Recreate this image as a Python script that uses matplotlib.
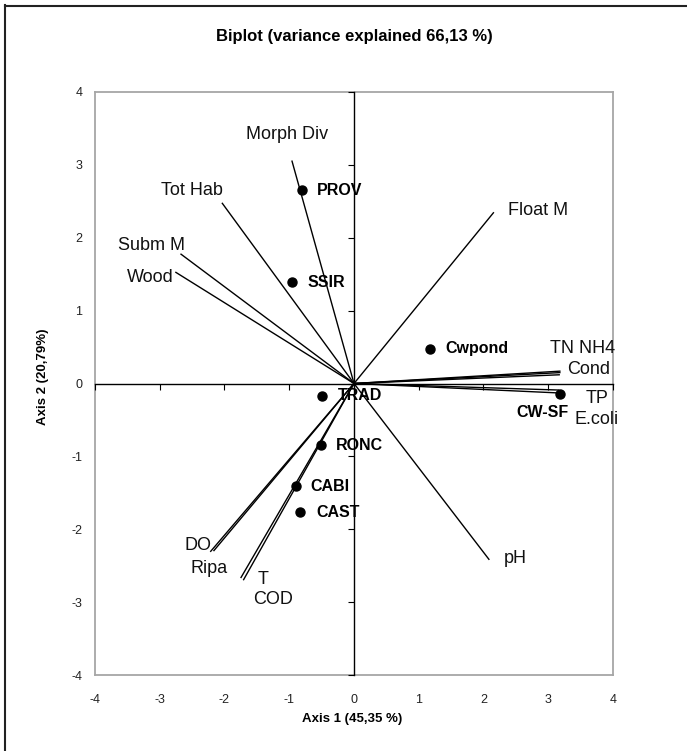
import matplotlib
matplotlib.use("Agg")
import matplotlib.pyplot as plt
from matplotlib.lines import Line2D

# ---- data ----
site_names = ["PROV", "SSIR", "Cwpond", "TRAD", "RONC", "CABI", "CAST", "CW-SF"]
site_x = [-0.80, -0.95, 1.17, -0.49, -0.51, -0.90, -0.83, 3.18]
site_y = [2.65, 1.39, 0.48, -0.17, -0.85, -1.41, -1.77, -0.14]

var_names = ["Morph Div", "Tot Hab", "Subm M", "Wood", "Float M", "TN", "NH4", "Cond",
             "TP", "E.coli", "pH", "DO", "Ripa", "T", "COD"]
var_x = [-0.96, -2.04, -2.68, -2.76, 2.16, 3.19, 3.19, 3.18,
         3.17, 3.17, 2.09, -2.22, -2.17, -1.75, -1.71]
var_y = [3.06, 2.48, 1.78, 1.53, 2.35, 0.17, 0.15, 0.12,
         -0.09, -0.13, -2.42, -2.31, -2.30, -2.67, -2.70]

ticks = [-4, -3, -2, -1, 0, 1, 2, 3, 4]

title = "Biplot (variance explained 66,13 %)"
xlabel = "Axis 1 (45,35 %)"
ylabel = "Axis 2 (20,79%)"

# ---- label layout (data coords of text anchors) ----
var_label_pos = {
    "Morph Div": (-1.03, 3.42, "center"),
    "Tot Hab": (-2.50, 2.65, "center"),
    "Subm M": (-3.12, 1.90, "center"),
    "Wood": (-3.14, 1.46, "center"),
    "Float M": (2.38, 2.37, "left"),
    "TN NH4": (3.03, 0.48, "left"),
    "Cond": (3.29, 0.19, "left"),
    "TP": (3.57, -0.20, "left"),
    "E.coli": (3.40, -0.49, "left"),
    "pH": (2.31, -2.40, "left"),
    "DO": (-2.62, -2.22, "left"),
    "Ripa": (-2.52, -2.54, "left"),
    "T": (-1.49, -2.69, "left"),
    "COD": (-1.56, -2.96, "left"),
}
site_label_off = {  # pixel offsets of label from point
    "PROV": (15, 0, "left"), "SSIR": (15, 0, "left"), "Cwpond": (16, 0, "left"),
    "TRAD": (16, 0, "left"), "RONC": (15, 0, "left"), "CABI": (15, 0, "left"),
    "CAST": (16, 0, "left"), "CW-SF": (-17, -19, "center"),
}

plt.rcParams['font.family'] = ['Liberation Sans', 'DejaVu Sans']
plt.rcParams['axes.unicode_minus'] = False

W, H = 687, 751
fig = plt.figure(figsize=(W / 100, H / 100), dpi=100)
pos = [95 / W, 1 - 675 / H, (613 - 95) / W, (675 - 92) / H]

# frame axes with tick labels
ax = fig.add_axes(pos)
ax.set_xlim(-4, 4)
ax.set_ylim(-4, 4)
ax.set_xticks(ticks)
ax.set_yticks(ticks)
ax.tick_params(length=0, labelsize=9, labelcolor='#222222')
ax.tick_params(axis='y', pad=9)
ax.tick_params(axis='x', pad=14)
for s in ax.spines.values():
    s.set_color('#a6a6a6')
    s.set_linewidth(1.3)

# center axes with zero spines and tick marks
ax0 = fig.add_axes(pos, frameon=True)
ax0.patch.set_alpha(0)
ax0.set_xlim(-4, 4)
ax0.set_ylim(-4, 4)
ax0.set_xticks(ticks)
ax0.set_yticks(ticks)
for k in ['top', 'right']:
    ax0.spines[k].set_visible(False)
for k in ['left', 'bottom']:
    ax0.spines[k].set_position('zero')
    ax0.spines[k].set_color('black')
    ax0.spines[k].set_linewidth(1.0)
ax0.tick_params(length=4, width=0.8, labelleft=False, labelbottom=False, direction='out')

# vectors
for n, x, y in zip(var_names, var_x, var_y):
    ax0.plot([0, x], [0, y], color='black', lw=1.0, solid_capstyle='butt', zorder=2)
for lab, (lx, ly, ha) in var_label_pos.items():
    ax0.text(lx, ly, lab, fontsize=13, ha=ha, va='center', color='#111111')

# sites
ax0.plot(site_x, site_y, 'o', color='black', markersize=6.5, zorder=3, linestyle='none')
for n, x, y in zip(site_names, site_x, site_y):
    dx, dy, ha = site_label_off[n]
    ax0.annotate(n, (x, y), xytext=(dx, dy), textcoords='offset pixels',
                 fontsize=11.5, fontweight='bold', ha=ha, va='center', zorder=4)

fig.text(354 / W, 1 - 37 / H, title, fontsize=12, fontweight='bold', ha='center', va='center')
fig.text(352 / W, 1 - 719 / H, xlabel, fontsize=9.5, fontweight='bold', ha='center', va='center')
fig.text(43 / W, 1 - 377 / H, ylabel, fontsize=9.5, fontweight='bold', ha='center', va='center',
         rotation=90)

# outer border (partially cropped)
fig.add_artist(Line2D([4.5 / W, 4.5 / W], [0, 1 - 5 / H], color='#222222', lw=1.5,
                      transform=fig.transFigure))
fig.add_artist(Line2D([4.5 / W, 1], [1 - 5.5 / H, 1 - 5.5 / H], color='#222222', lw=1.5,
                      transform=fig.transFigure))

fig.savefig("out.png", dpi=100)
